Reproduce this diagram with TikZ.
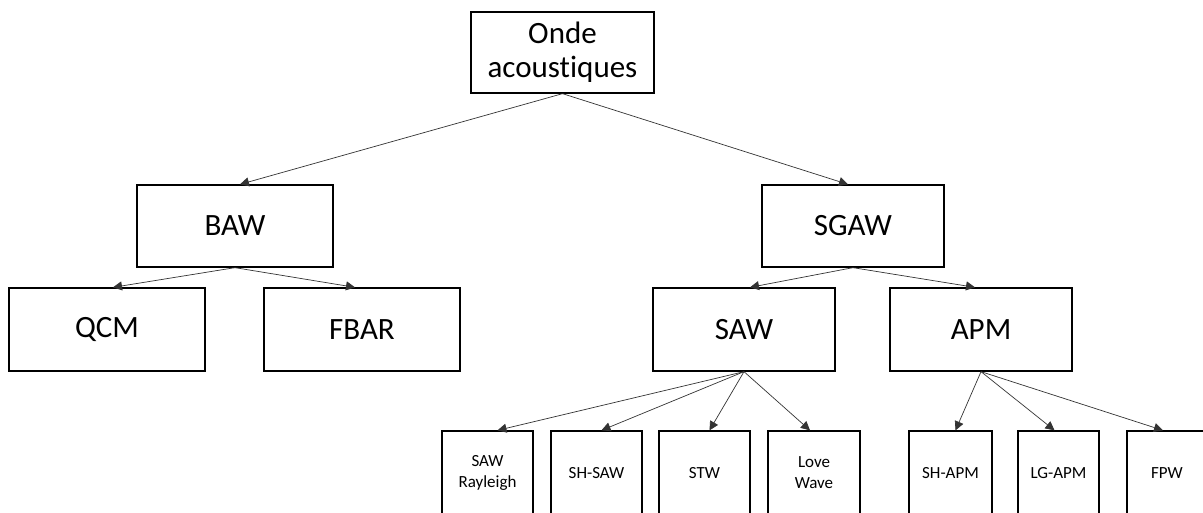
\documentclass[tikz,border=0pt]{standalone}
\usepackage{fontspec}
\setmainfont[Ligatures={NoCommon}]{Carlito}
\usetikzlibrary{arrows.meta}
\begin{document}
\begin{tikzpicture}[x=1pt,y=-1pt,
  bigbox/.style={draw=black,line width=1.3pt,fill=white,rectangle,inner sep=0pt,align=center,
    font=\fontsize{31}{34}\selectfont},
  smallbox/.style={draw=black,line width=1.3pt,fill=white,rectangle,inner sep=0pt,align=center,
    minimum height=84pt,font=\fontsize{17}{21}\selectfont},
  arr/.style={draw=black!80,line width=0.7pt,-{Triangle[length=9pt,width=9pt]}}]
\clip (0,0) rectangle (1203,512);
\fill[white] (0,0) rectangle (1203,512);
% level 0
\node[bigbox,minimum width=183pt,minimum height=81pt] (onde) at (562.5,52.5) {Onde\\acoustiques};
% level 1
\node[bigbox,minimum width=196pt,minimum height=82pt] (baw) at (235,226) {BAW};
\node[bigbox,minimum width=182pt,minimum height=82pt] (sgaw) at (853,226) {SGAW};
% level 2
\node[bigbox,minimum width=196pt,minimum height=83pt] (qcm) at (107,329.5) {QCM};
\node[bigbox,minimum width=196pt,minimum height=83pt] (fbar) at (362,329.5) {FBAR};
\node[bigbox,minimum width=182pt,minimum height=83pt] (saw) at (744,329.5) {SAW};
\node[bigbox,minimum width=182pt,minimum height=83pt] (apm) at (981,329.5) {APM};
% level 3
\node[smallbox,minimum width=91pt] (ray) at (487.5,473) {SAW\\Rayleigh};
\node[smallbox,minimum width=91pt] (shsaw) at (596.5,473) {SH-SAW};
\node[smallbox,minimum width=91pt] (stw) at (704.5,473) {STW};
\node[smallbox,minimum width=92pt] (love) at (814,473) {Love\\Wave};
\node[smallbox,minimum width=83pt] (shapm) at (950.5,473) {SH-APM};
\node[smallbox,minimum width=81pt] (lgapm) at (1058.5,473) {LG-APM};
\node[smallbox,minimum width=80pt] (fpw) at (1167,473) {FPW};
% connectors
\draw[arr] (onde.south) -- ([xshift=5pt]baw.north);
\draw[arr] (onde.south) -- ([xshift=-5pt]sgaw.north);
\draw[arr] (baw.south) -- ([xshift=6pt]qcm.north);
\draw[arr] (baw.south) -- ([xshift=-7pt]fbar.north);
\draw[arr] (sgaw.south) -- ([xshift=6pt]saw.north);
\draw[arr] (sgaw.south) -- ([xshift=-6pt]apm.north);
\draw[arr] (saw.south) -- ([xshift=10pt]ray.north);
\draw[arr] (saw.south) -- ([xshift=5pt]shsaw.north);
\draw[arr] (saw.south) -- ([xshift=5pt]stw.north);
\draw[arr] (saw.south) -- ([xshift=-4pt]love.north);
\draw[arr] (apm.south) -- ([xshift=5pt]shapm.north);
\draw[arr] (apm.south) -- ([xshift=-4pt]lgapm.north);
\draw[arr] (apm.south) -- ([xshift=-4pt]fpw.north);
\end{tikzpicture}
\end{document}
